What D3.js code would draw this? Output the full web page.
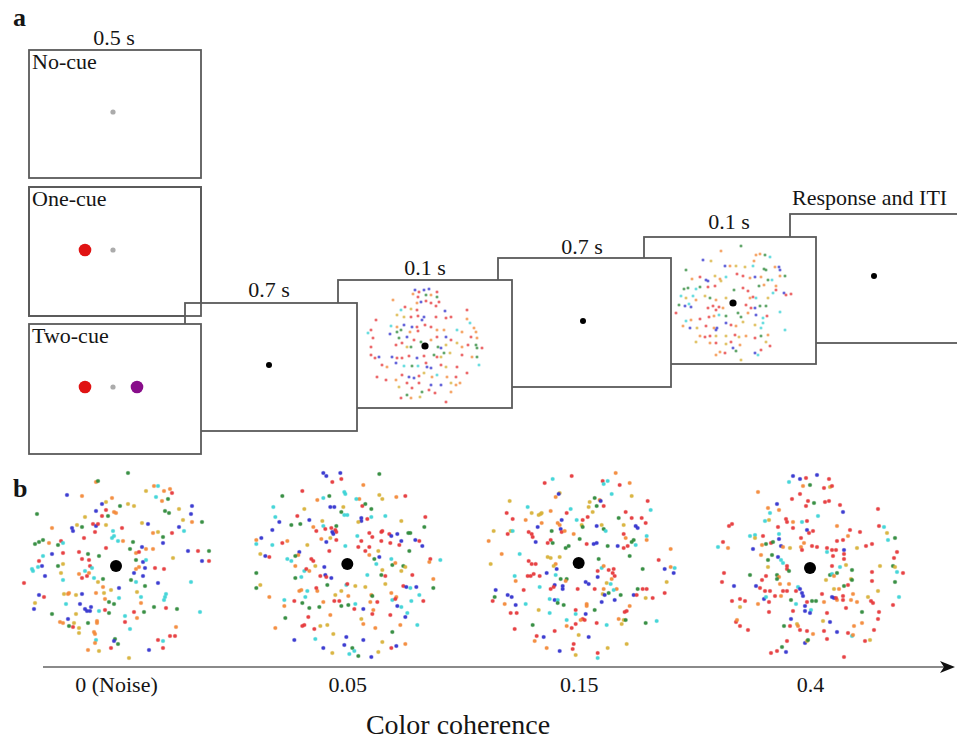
<!DOCTYPE html>
<html><head><meta charset="utf-8">
<script src="https://cdn.jsdelivr.net/npm/d3@7"></script>
<style>html,body{margin:0;padding:0;background:#fff;} svg{display:block;} svg text{font-family:'Liberation Serif','DejaVu Serif','Noto Serif',serif !important;fill:#151515;}</style>
</head><body><svg id="c" width="957" height="741"></svg>
<script>
// ---------------- data ----------------
const panelLabels = ["a", "b"];
const cueLabels = ["No-cue", "One-cue", "Two-cue"];
const durations = ["0.5 s", "0.7 s", "0.1 s", "0.7 s", "0.1 s", "Response and ITI"];
const coherence = ["0 (Noise)", "0.05", "0.15", "0.4"];
const axisTitle = "Color coherence";
const colorNames = ["red", "orange", "yellow", "green", "cyan", "blue"];
const colorValues = ["#e6393b", "#f38a3a", "#d8b23a", "#2f8a3b", "#3dd4d6", "#3434cf"];
// cue dots per cue condition: [offset from fixation, colour]
const cueDots = [[], [[-28, "#e01313"]], [[-28, "#e01313"], [24, "#880d8a"]]];
// dot clouds: [dx, dy, colour index]
const dotsNoise = [[12,-93,3],[-20,-84,1],[-18,-85,3],[-49,-71,5],[-34,-70,1],[38,-80,1],[42,-80,4],[30,-75,2],[48,-75,1],[54,-77,1],[56,-73,0],[40,-69,4],[52,-67,3],[46,-65,1],[-4,-68,1],[-14,-62,5],[-10,-64,2],[4,-60,3],[12,-62,2],[18,-60,2],[-79,-52,3],[-20,-55,5],[-10,-56,0],[-2,-54,1],[0,-53,1],[49,-55,3],[53,-53,3],[63,-57,2],[76,-60,5],[75,-52,5],[-31,-49,2],[-14,-50,0],[-8,-50,3],[67,-46,2],[76,-44,1],[86,-44,3],[-23,-42,0],[-20,-40,5],[-18,-42,0],[-39,-41,2],[-34,-39,3],[-44,-38,5],[-43,-35,5],[-64,-38,1],[-10,-41,2],[26,-43,2],[32,-42,5],[63,-39,5],[68,-35,4],[6,-38,0],[-21,-34,0],[-3,-35,4],[-4,-28,4],[-2,-30,4],[2,-25,4],[7,-25,1],[37,-33,1],[42,-34,2],[47,-29,3],[47,-23,5],[56,-33,0],[-32,-28,0],[-55,-25,0],[-53,-23,4],[-81,-22,3],[-77,-24,3],[-73,-26,3],[-67,-23,1],[-58,-21,3],[17,-24,3],[-10,-18,0],[14,-17,3],[26,-19,5],[30,-17,1],[37,-17,1],[-37,-14,0],[-28,-12,3],[-17,-10,3],[20,-13,1],[23,-14,0],[-64,-12,5],[-53,-13,0],[-73,-10,4],[72,-15,5],[82,-15,0],[93,-15,3],[57,-8,2],[86,-5,5],[93,-5,0],[-34,-7,0],[-27,-6,0],[20,-6,3],[27,-4,5],[30,-6,4],[-77,-5,0],[-74,0,5],[-78,1,4],[-83,5,4],[-84,3,4],[-58,0,3],[-53,-2,2],[-26,0,0],[-24,2,4],[20,3,1],[23,1,1],[29,2,5],[39,2,0],[48,3,0],[-31,5,4],[-37,8,1],[-71,10,5],[-55,7,2],[-29,10,0],[-27,7,1],[-22,12,4],[-34,12,0],[18,7,5],[27,10,5],[15,14,3],[20,16,4],[-13,13,3],[-18,16,2],[-53,14,4],[42,17,5],[75,16,4],[-92,17,0],[29,20,3],[-13,21,1],[-5,24,2],[3,22,5],[-77,29,5],[-72,31,0],[-52,28,2],[-48,28,1],[-47,27,1],[-40,29,2],[-34,28,5],[-20,27,1],[-12,27,2],[21,26,2],[25,31,4],[50,28,4],[49,31,4],[48,34,4],[-81,37,2],[-50,38,4],[-36,38,5],[-11,33,1],[-7,36,3],[-2,38,3],[3,32,4],[25,37,1],[-25,41,5],[-26,45,5],[-31,43,5],[-29,45,5],[-17,45,4],[-11,44,0],[-7,47,3],[-82,43,5],[38,41,3],[50,42,0],[61,43,3],[18,46,0],[28,46,3],[-40,48,2],[-64,48,3],[9,50,4],[21,52,1],[-48,53,5],[-28,57,3],[-19,55,1],[-19,57,1],[9,56,0],[-56,56,1],[-53,57,1],[-47,60,3],[-42,57,2],[-43,61,0],[84,46,4],[14,63,4],[-37,62,2],[-37,67,2],[-22,66,1],[-21,68,1],[60,61,1],[54,70,0],[59,70,0],[-1,73,3],[-2,75,5],[2,78,3],[-20,74,4],[-21,77,1],[42,74,0],[47,75,4],[-28,84,1],[-17,85,2],[-5,82,0],[33,84,5],[47,82,0],[13,92,2]];
const dots005 = [[-24,-91,5],[-21,-88,5],[-7,-91,5],[-6,-85,0],[-15,-82,0],[32,-90,3],[16,-79,1],[-45,-73,0],[-3,-72,4],[-2,-70,4],[-65,-68,3],[-18,-68,3],[-24,-66,4],[-30,-64,1],[12,-65,1],[9,-65,4],[32,-69,2],[35,-65,2],[49,-67,1],[58,-68,0],[-74,-57,4],[-43,-55,2],[-17,-57,5],[-13,-57,5],[-4,-57,2],[-6,-52,3],[-3,-49,4],[0,-49,4],[15,-58,0],[18,-60,3],[24,-55,3],[14,-46,5],[14,-43,5],[11,-42,2],[20,-45,0],[24,-47,4],[38,-48,4],[-50,-48,0],[-38,-44,5],[-72,-47,4],[-68,-42,5],[-25,-43,2],[78,-47,0],[54,-43,2],[-56,-39,3],[-47,-40,3],[-34,-37,1],[-31,-33,0],[-24,-38,4],[-22,-35,0],[-16,-36,0],[-11,-38,3],[-12,-34,0],[-11,-32,0],[-15,-32,5],[-14,-30,5],[-75,-34,5],[77,-37,3],[10,-28,4],[22,-31,0],[25,-27,0],[34,-32,0],[35,-33,0],[42,-30,0],[44,-28,5],[50,-30,5],[61,-31,3],[63,-31,3],[68,-24,5],[72,-23,0],[75,-18,5],[-86,-26,5],[-91,-24,1],[-91,-20,4],[-65,-21,0],[-60,-23,1],[-75,-19,4],[-40,-19,2],[-26,-25,1],[-21,-22,5],[-17,-26,2],[-11,-24,0],[14,-23,0],[11,-17,0],[34,-23,0],[43,-21,0],[54,-23,5],[52,-19,0],[-2,-18,4],[-18,-13,0],[18,-13,0],[22,-17,0],[31,-13,2],[62,-13,3],[-48,-12,5],[-49,-9,1],[-87,-10,2],[-82,-8,5],[-78,-7,0],[-52,-8,3],[22,-9,1],[27,-5,3],[32,-7,5],[44,-5,4],[45,1,3],[48,-1,1],[83,-5,0],[82,-2,1],[93,-4,4],[-60,-5,4],[-56,-3,4],[-36,-5,0],[-34,-3,0],[-52,2,1],[-43,7,4],[-41,5,0],[-38,7,1],[-32,2,2],[-23,3,5],[29,0,4],[35,6,2],[56,2,3],[58,3,2],[54,7,2],[-91,9,3],[-52,14,3],[-46,13,4],[-27,12,0],[-22,11,5],[-21,13,0],[-16,14,5],[20,11,4],[34,11,3],[38,12,0],[65,11,0],[-91,24,3],[-87,21,2],[-20,21,3],[-1,21,4],[0,20,0],[8,22,2],[38,20,2],[56,22,0],[59,23,5],[63,24,4],[69,23,5],[86,15,1],[86,24,3],[-48,27,1],[-46,26,1],[-40,27,4],[-30,27,1],[-31,24,0],[18,23,2],[-12,31,2],[-6,27,2],[1,32,1],[24,31,1],[25,32,3],[44,29,1],[49,33,1],[45,36,4],[48,35,0],[-63,36,4],[-63,42,1],[-78,33,1],[-53,37,0],[-45,39,3],[-42,33,4],[-24,38,1],[-13,37,0],[-8,37,0],[-6,42,3],[1,41,3],[8,40,4],[-38,44,3],[-28,43,3],[7,45,0],[16,45,5],[23,38,1],[30,38,0],[26,46,1],[50,42,5],[54,43,4],[64,37,4],[72,31,4],[76,37,0],[-17,51,1],[-39,53,0],[-62,54,3],[25,50,0],[43,51,0],[60,49,4],[58,53,5],[14,55,2],[-43,61,0],[-45,62,0],[-27,62,2],[-20,61,2],[16,60,1],[-72,64,1],[-33,65,0],[28,64,1],[53,61,1],[70,61,4],[45,68,3],[-14,70,2],[-53,76,5],[-32,75,4],[-1,73,5],[16,76,5],[35,78,2],[-3,81,5],[5,84,3],[7,87,4],[2,90,4],[-24,84,5],[-15,89,2],[11,92,3],[24,93,5],[31,88,2],[49,82,5],[58,80,1],[44,84,0]];
const dots015 = [[-7,-87,0],[37,-90,1],[-34,-80,0],[-26,-84,4],[24,-82,0],[25,-79,4],[29,-82,4],[41,-78,0],[51,-80,1],[-19,-70,2],[-20,-69,5],[-23,-66,1],[33,-69,4],[53,-67,2],[-69,-62,2],[16,-65,3],[21,-63,1],[22,-62,5],[11,-61,2],[10,-56,2],[14,-51,2],[18,-57,3],[25,-57,0],[69,-62,0],[72,-53,4],[-51,-56,4],[-47,-50,2],[-72,-50,0],[-66,-44,0],[-40,-48,2],[-38,-49,2],[-37,-50,2],[-28,-52,1],[-12,-50,0],[-8,-54,4],[47,-51,0],[53,-45,0],[63,-45,0],[67,-40,0],[40,-45,3],[-53,-43,1],[-2,-43,4],[4,-43,0],[3,-38,2],[4,-36,3],[9,-46,0],[-17,-43,5],[-21,-40,1],[-19,-38,1],[-37,-40,1],[23,-38,2],[25,-34,3],[27,-32,4],[18,-37,5],[45,-38,2],[57,-37,5],[59,-35,5],[-41,-36,5],[-85,-32,2],[-68,-32,2],[-66,-32,4],[-71,-29,0],[-50,-31,0],[-47,-29,0],[-46,-26,0],[-27,-32,3],[-18,-34,5],[-17,-31,0],[-14,-32,1],[-5,-29,1],[1,-24,3],[45,-29,0],[47,-25,1],[53,-21,3],[55,-23,3],[68,-27,4],[68,-23,1],[-43,-21,5],[-31,-20,0],[-28,-23,0],[-26,-20,3],[8,-19,0],[15,-19,5],[18,-20,5],[29,-17,3],[39,-17,5],[45,-15,0],[49,-17,0],[57,-18,4],[-90,-22,1],[-13,-15,3],[-10,-17,3],[-77,-9,1],[-59,-9,4],[92,-14,1],[-31,-6,2],[-28,-5,2],[-19,-6,2],[20,-4,3],[51,-7,3],[80,-3,0],[-88,1,2],[-50,-2,0],[-47,1,0],[-43,1,0],[-23,1,1],[-22,6,5],[-25,3,2],[23,5,4],[25,3,1],[19,8,0],[30,7,0],[35,6,0],[34,10,0],[36,13,0],[33,16,1],[64,6,3],[86,6,5],[92,4,1],[96,5,4],[95,10,5],[88,19,2],[-64,13,4],[-51,13,0],[-48,13,0],[-45,11,0],[-39,13,0],[-32,10,5],[-23,12,4],[-18,16,3],[-12,16,3],[-13,18,1],[-63,18,1],[7,19,5],[10,21,5],[19,14,5],[28,20,2],[32,21,4],[-39,24,4],[-24,22,5],[-28,26,0],[-25,24,0],[-16,23,5],[-16,26,5],[-1,26,0],[16,26,0],[25,26,1],[38,26,1],[35,27,4],[59,26,3],[64,26,0],[68,26,0],[-83,27,5],[-84,34,3],[-86,38,0],[-55,27,0],[-71,32,5],[-67,34,5],[-29,36,4],[-24,37,5],[-21,37,4],[-21,40,3],[-15,42,3],[24,31,2],[26,32,5],[30,30,3],[42,32,3],[55,32,5],[58,32,0],[67,35,2],[74,35,0],[86,30,0],[36,37,5],[23,39,5],[-74,41,1],[-63,42,5],[-53,41,4],[8,41,1],[8,43,1],[-40,47,2],[-68,50,0],[-62,50,0],[-3,47,0],[-3,51,4],[7,51,5],[-29,50,4],[16,47,3],[51,43,1],[46,49,0],[48,48,0],[4,56,0],[6,57,0],[-12,57,4],[2,57,1],[40,56,1],[45,57,2],[47,57,3],[43,61,2],[-3,61,0],[18,60,0],[28,62,4],[67,60,3],[78,58,4],[-46,62,3],[-64,66,0],[-12,63,1],[-7,65,0],[-24,68,0],[0,72,2],[-42,73,0],[-35,74,5],[-44,78,1],[10,74,5],[-32,85,1],[-19,88,5],[-5,81,0],[-6,86,0],[-3,92,2],[19,90,0],[19,95,4],[29,85,2],[48,81,2]];
const dots04 = [[-17,-92,5],[-10,-89,5],[-4,-90,0],[7,-93,5],[19,-89,0],[-21,-86,4],[-7,-82,1],[0,-83,3],[14,-80,0],[20,-81,2],[22,-82,0],[-52,-76,1],[-10,-74,0],[-18,-69,0],[-2,-67,0],[4,-65,3],[15,-66,0],[19,-67,0],[-33,-64,5],[-4,-62,0],[30,-63,0],[-42,-60,1],[-31,-58,1],[-40,-55,4],[33,-56,5],[68,-59,0],[8,-52,4],[-45,-47,4],[-41,-48,2],[-24,-49,0],[-23,-46,0],[-17,-46,1],[-8,-46,4],[-3,-47,0],[-81,-42,0],[-78,-44,0],[-32,-41,0],[-17,-40,0],[-3,-38,5],[-1,-35,0],[3,-37,0],[27,-42,1],[40,-38,0],[50,-36,0],[69,-42,0],[74,-41,4],[77,-35,2],[-60,-32,4],[-55,-33,4],[-55,-30,2],[-47,-32,0],[-31,-34,4],[-9,-30,0],[38,-32,1],[-87,-26,0],[78,-28,4],[85,-30,3],[-31,-29,5],[-48,-23,1],[-44,-24,3],[-39,-25,0],[-37,-26,3],[-29,-22,5],[-27,-21,1],[-20,-20,2],[-9,-21,1],[-6,-25,1],[2,-22,0],[7,-21,0],[27,-27,0],[33,-28,0],[56,-22,0],[62,-24,0],[47,-20,2],[-92,-21,4],[-82,-20,1],[-57,-19,5],[-8,-18,0],[17,-20,0],[22,-18,0],[26,-18,0],[34,-18,5],[17,-16,4],[-49,-13,1],[-38,-13,3],[23,-12,0],[34,-14,0],[34,-9,0],[87,-16,0],[84,-10,0],[-42,-8,3],[-32,-11,5],[-29,-8,4],[-27,-5,4],[22,-2,0],[30,-1,4],[36,-3,2],[70,-2,2],[83,-2,3],[85,-1,2],[-42,-1,2],[-23,-2,0],[-23,1,0],[-21,3,3],[42,2,3],[87,4,4],[93,5,0],[-86,5,0],[-60,7,3],[-44,8,0],[-33,7,3],[-31,9,1],[-33,11,3],[20,7,3],[22,6,4],[27,5,3],[24,8,1],[41,11,2],[42,12,3],[62,4,0],[62,13,0],[85,14,3],[-88,14,0],[-48,12,0],[16,12,2],[-30,16,1],[-21,16,1],[-12,19,4],[-10,21,5],[34,18,3],[38,17,0],[-76,18,5],[-54,18,5],[-50,20,0],[-45,23,0],[-40,23,0],[-27,23,0],[-23,23,0],[-14,23,0],[24,21,2],[29,21,1],[33,28,0],[68,23,2],[-35,28,0],[-29,28,1],[-19,32,3],[-8,25,5],[-7,28,5],[12,26,0],[22,29,5],[24,30,5],[27,32,1],[26,30,0],[33,32,0],[43,26,1],[58,29,2],[61,33,0],[63,35,0],[89,29,4],[-70,31,0],[-65,33,0],[-78,33,0],[-52,36,1],[-46,31,5],[-44,29,4],[-41,34,0],[-14,36,4],[-5,38,5],[-3,34,0],[2,33,3],[6,33,3],[14,34,1],[41,32,1],[47,34,1],[83,37,0],[-70,39,2],[-41,44,0],[-17,43,0],[-5,43,5],[1,42,4],[0,45,5],[17,45,0],[36,40,0],[52,44,3],[69,44,0],[-19,51,5],[13,53,2],[20,54,5],[68,51,0],[-74,54,0],[-73,52,1],[-70,58,0],[-26,58,3],[-20,58,0],[-13,56,2],[-12,58,1],[-10,62,0],[-3,63,0],[44,58,1],[52,55,1],[64,62,0],[-62,62,0],[14,63,0],[27,64,5],[38,65,0],[42,68,4],[43,67,1],[3,66,1],[17,71,0],[-23,73,0],[-5,75,5],[-3,73,2],[-2,72,3],[55,73,0],[60,72,2],[-28,79,3],[-39,85,0],[-33,83,0],[-24,84,5],[34,89,0]];
const dotsStim1 = [[-10,-56,5],[-6,-54,0],[-1,-56,5],[4,-57,5],[12,-54,0],[-32,-46,1],[-12,-52,1],[-7,-49,0],[1,-51,3],[6,-51,1],[12,-49,3],[14,-44,0],[-8,-43,1],[-4,-44,5],[1,-45,0],[6,-43,0],[-20,-39,0],[-24,-36,4],[-14,-37,2],[-8,-36,0],[11,-40,0],[20,-35,5],[42,-36,0],[-28,-31,2],[-21,-29,2],[-14,-29,0],[-7,-30,0],[-1,-29,5],[-3,-26,5],[-49,-26,0],[11,-29,0],[21,-28,0],[26,-29,0],[42,-27,1],[45,-23,4],[-34,-20,4],[-28,-19,1],[-21,-21,5],[-13,-19,5],[-8,-19,0],[0,-21,0],[6,-19,0],[-54,-16,0],[-57,-13,4],[-35,-12,5],[-28,-14,3],[-24,-16,3],[-15,-14,1],[-7,-15,0],[12,-16,1],[19,-16,1],[32,-16,4],[37,-14,1],[49,-18,1],[51,-14,1],[-52,-8,0],[-26,-8,3],[-18,-9,5],[-11,-6,0],[-4,-4,3],[6,-6,1],[12,-9,0],[21,-9,5],[26,-6,0],[46,-9,0],[52,-8,1],[-29,-1,0],[-23,-3,0],[-18,1,2],[-14,1,3],[13,1,3],[16,2,5],[21,-1,2],[32,-3,2],[37,1,1],[43,-1,0],[51,-1,3],[52,2,3],[57,2,0],[-54,1,0],[-54,9,0],[-50,12,0],[-46,11,5],[-33,11,5],[-28,12,0],[-23,12,0],[-16,10,0],[-8,12,5],[-1,10,0],[9,9,3],[12,11,0],[19,7,3],[25,7,2],[16,11,2],[37,9,0],[47,11,1],[52,11,3],[-43,19,0],[-38,21,1],[-29,17,5],[-21,20,4],[-13,20,3],[-7,20,4],[1,17,0],[2,21,5],[6,22,5],[16,19,0],[21,21,2],[32,21,0],[42,27,0],[54,19,4],[-48,31,0],[-39,34,0],[-29,34,1],[-23,29,0],[-16,31,5],[-11,32,5],[-6,30,0],[-1,27,2],[7,31,1],[12,29,4],[22,31,1],[31,31,0],[-18,37,0],[-6,37,0],[6,39,5],[16,39,5],[26,37,2],[31,39,1],[35,37,1],[-26,41,2],[-13,42,0],[-3,46,3],[4,44,0],[10,47,0],[26,46,1],[-24,52,0],[-18,49,3],[-14,52,1],[-5,51,2],[21,56,0]];
const dotsStim2 = [[8,-57,3],[-12,-52,1],[-30,-43,5],[-22,-42,2],[23,-48,1],[27,-49,1],[32,-48,3],[37,-46,4],[-47,-33,3],[-8,-37,5],[-3,-37,1],[3,-37,2],[12,-36,2],[20,-37,4],[21,-42,1],[31,-34,3],[33,-33,3],[42,-36,1],[46,-36,5],[47,-33,5],[-41,-24,1],[-33,-26,0],[-27,-23,5],[-25,-22,5],[-18,-27,2],[-13,-24,1],[-7,-26,4],[-12,-22,2],[4,-29,0],[10,-27,0],[17,-25,1],[22,-26,5],[28,-26,1],[35,-23,3],[39,-23,4],[47,-27,1],[52,-27,3],[-49,-14,3],[-45,-15,3],[-37,-14,4],[-33,-16,3],[-25,-16,0],[-18,-17,0],[1,-13,3],[10,-15,0],[15,-12,0],[26,-17,3],[31,-18,1],[43,-17,1],[43,-13,0],[51,-10,5],[53,-8,0],[58,-9,0],[-52,-7,4],[-47,-5,2],[-40,-7,4],[-37,-3,1],[-28,-7,2],[-23,-5,3],[-17,-3,1],[-7,-5,2],[17,-5,1],[20,-6,0],[23,-5,4],[35,-5,2],[40,-10,4],[-54,2,3],[-48,3,5],[-44,1,4],[-42,4,5],[-25,5,0],[-20,3,0],[-17,7,0],[-14,4,0],[-10,5,1],[13,2,0],[18,5,0],[22,5,5],[27,3,3],[33,3,3],[47,9,4],[-57,10,0],[-47,18,4],[-42,17,1],[-33,16,0],[-24,14,0],[-19,13,1],[-14,12,4],[-7,13,3],[5,10,3],[8,14,3],[15,10,1],[23,12,5],[30,15,4],[34,13,0],[-50,23,1],[-43,25,5],[-36,25,2],[-27,23,0],[-19,25,1],[-17,27,5],[-16,25,5],[-7,20,5],[-2,22,0],[3,23,1],[10,19,2],[22,22,2],[30,20,4],[28,25,4],[52,27,4],[-33,33,1],[-28,34,0],[-23,33,0],[-17,33,2],[-7,33,2],[2,32,0],[6,34,2],[13,33,1],[22,35,0],[28,33,3],[35,32,1],[-37,39,2],[-23,40,1],[-17,40,0],[-7,41,2],[-2,39,0],[7,42,1],[33,39,2],[37,43,0],[-13,49,1],[-8,50,0],[0,45,5],[3,48,3],[22,50,5],[28,47,0],[25,52,4],[8,57,2],[-17,52,1]];
const coherenceDots = [dotsNoise, dots005, dots015, dots04];

// ---------------- layout ----------------
const SERIF = "'Liberation Serif','DejaVu Serif','Noto Serif',serif";
const svg = d3.select("#c");
const color = d3.scaleOrdinal().domain(d3.range(colorNames.length)).range(colorValues);
const FONT = 22;
// panel a frames: [x0, y0, x1, y1]
const cueFrames = [[29,50,201,178],[29,187,201,316],[29,324,201,454]];
const seqFrames = [[185,303,357,431],[338,280,512,408],[498,258,671,387],[644,237,816,364],[790,214,990,343]];
const fix = {cx: 113, cueY: [112, 250, 387]};
const seqCenters = [[269,365],[425,346],[583,321],[733,303],[874,276]];
const seqLabelPos = [[269,297,"middle"],[425,275,"middle"],[582,254,"middle"],[729,229,"middle"],[792,205,"start"]];

function txt(g, x, y, s, size, anchor, weight) {
  return g.append("text").attr("x", x).attr("y", y).attr("text-anchor", anchor || "start")
    .attr("font-size", size).attr("font-weight", weight || "normal").attr("font-family", SERIF).text(s);
}
function frame(g, f, fill) {
  g.append("rect").attr("x", f[0]).attr("y", f[1]).attr("width", f[2]-f[0]).attr("height", f[3]-f[1])
    .attr("fill", fill ? "#fff" : "none").attr("stroke", "#5a5a5a").attr("stroke-width", 1.8);
}
function cloud(g, data, cx, cy, r, op, halo) {
  const x = d3.scaleLinear().domain([-100,100]).range([cx-100, cx+100]);
  const y = d3.scaleLinear().domain([-100,100]).range([cy-100, cy+100]);
  g.selectAll(null).data(data).enter().append("circle")
    .attr("cx", d => x(d[0])).attr("cy", d => y(d[1])).attr("r", r)
    .attr("fill", d => color(d[2])).attr("fill-opacity", op)
    .attr("stroke", d => color(d[2])).attr("stroke-opacity", halo).attr("stroke-width", 1.1);
}

const ga = svg.append("g");
frame(ga, cueFrames[0], true);
frame(ga, cueFrames[1], true);
for (let i = seqFrames.length - 1; i >= 0; i--) {
  frame(ga, seqFrames[i], true);
  const [cx, cy] = seqCenters[i];
  if (i === 1) cloud(ga, dotsStim1, cx, cy, 1.35, 0.72, 0.2);
  if (i === 3) cloud(ga, dotsStim2, cx, cy, 1.35, 0.72, 0.2);
  ga.append("circle").attr("cx", cx).attr("cy", cy).attr("r", (i === 1 || i === 3) ? 3.6 : 3).attr("fill", "#000");
  const lp = seqLabelPos[i];
  txt(ga, lp[0], lp[1], durations[i + 1], FONT, lp[2]);
}
frame(ga, cueFrames[1], false);
frame(ga, cueFrames[2], true);
cueLabels.forEach((lab, i) => {
  const f = cueFrames[i];
  txt(ga, f[0] + 3, f[1] + 19, lab, FONT);
  ga.append("circle").attr("cx", fix.cx).attr("cy", fix.cueY[i]).attr("r", 2.6).attr("fill", "#ababab");
  cueDots[i].forEach(cd => {
    ga.append("circle").attr("cx", fix.cx + cd[0]).attr("cy", fix.cueY[i]).attr("r", 6.3).attr("fill", cd[1]);
  });
});
txt(ga, 114, 45, durations[0], FONT, "middle");
txt(ga, 13, 26, panelLabels[0], 26, "start", "bold");

// panel b
const gb = svg.append("g");
txt(gb, 13, 497, panelLabels[1], 26, "start", "bold");
const xb = d3.scalePoint().domain(coherence).range([116, 810]);
const cloudY = [566, 564, 563, 568];
coherence.forEach((c, i) => {
  cloud(gb, coherenceDots[i], xb(c), cloudY[i], 1.8, 0.95, 0.35);
  gb.append("circle").attr("cx", xb(c)).attr("cy", cloudY[i]).attr("r", 6).attr("fill", "#000");
});
const axisY = 667;
gb.append("line").attr("x1", 43).attr("x2", 946).attr("y1", axisY).attr("y2", axisY)
  .attr("stroke", "#8a8a8a").attr("stroke-width", 2);
gb.append("path").attr("d", `M955,${axisY} L940,${axisY-6} L944,${axisY} L940,${axisY+6} Z`).attr("fill", "#111");
const ax = gb.append("g").attr("transform", `translate(0,${axisY})`)
  .call(d3.axisBottom(xb).tickSize(0).tickPadding(0));
ax.attr("font-family", SERIF).attr("font-size", FONT);
ax.select(".domain").remove();
ax.selectAll("text").attr("y", 25).attr("dy", 0).attr("font-size", FONT)
  .attr("font-family", SERIF).attr("fill", "#151515");
txt(gb, 458, 734, axisTitle, 28, "middle");
</script></body></html>
